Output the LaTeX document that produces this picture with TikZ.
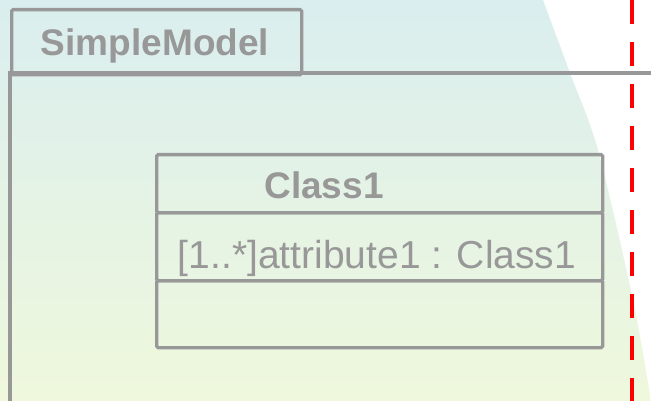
\documentclass[tikz,border=0pt]{standalone}
\usepackage{fontspec}
\setmainfont{Liberation Sans}
\definecolor{umlgray}{HTML}{989898}
\definecolor{bgtop}{HTML}{DAEEEF}
\definecolor{bgbot}{HTML}{EFF8DC}
\definecolor{lifered}{HTML}{FF0000}
\begin{document}
\begin{tikzpicture}[x=1pt,y=-1pt,
  umlline/.style={draw=umlgray, line width=3.3pt},
  box/.style={umlline, rectangle, inner sep=0pt, rounded corners=1.5pt},
  boldtxt/.style={text=umlgray, font=\fontsize{37}{40}\selectfont\bfseries, inner sep=0pt, anchor=base},
  plaintxt/.style={text=umlgray, font=\fontsize{39}{42}\selectfont, inner sep=0pt, anchor=base}]
\useasboundingbox (0,0) rectangle (651,401);
% background
\shade[top color=bgtop, bottom color=bgbot]
  (0,0) -- plot[smooth] coordinates {(543,0) (570,73) (598,150) (633,300) (651,401)} -- (0,401) -- cycle;
% lifeline
\coordinate (ltop) at (632,0);
\coordinate (lbot) at (632,401);
\draw[lifered, line width=4pt, dash pattern=on 24pt off 18pt] (ltop) -- (lbot);
% package
\node[box, minimum width=290pt, minimum height=65pt, anchor=north west] (pkgtab) at (10,8) {};
\node[boldtxt] (pkgname) at (155,56) {SimpleModel};
\coordinate (pkgright) at (655,73);
\coordinate (pkgbottom) at (10,405);
\draw[umlline] (pkgbottom) |- (pkgright);
% class
\node[box, minimum width=446pt, minimum height=58pt, anchor=north west] (clsname) at (155,153) {};
\node[box, minimum width=446pt, minimum height=68pt, anchor=north west] (clsattr) at (155,211) {};
\node[box, minimum width=446pt, minimum height=67pt, anchor=north west] (clsops) at (155,279) {};
\node[boldtxt] (clsnametxt) at (324,198) {Class1};
\node[plaintxt] (attrtxt) at (377,268) {[1..*]attribute1 : Class1};
\end{tikzpicture}
\end{document}
